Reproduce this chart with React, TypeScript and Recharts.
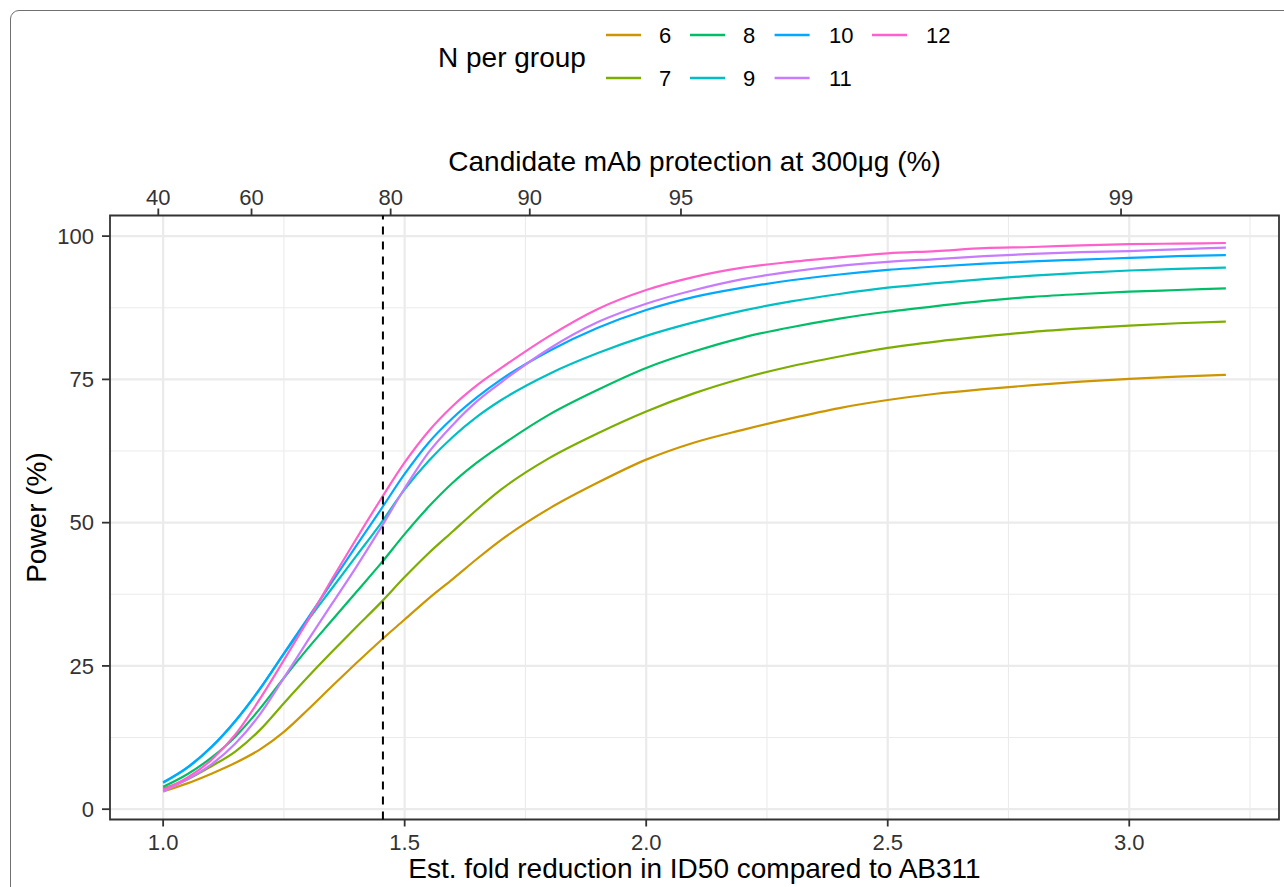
import React from 'react';
import { LineChart, Line, XAxis, YAxis, CartesianGrid, ReferenceLine, ReferenceArea } from 'recharts';

// ---------- data ----------
const foldReduction = [1.0, 1.05, 1.1, 1.15, 1.2, 1.25, 1.3, 1.35, 1.4, 1.45, 1.5, 1.55, 1.6, 1.65, 1.7, 1.8, 1.9, 2.0, 2.1, 2.2, 2.3, 2.4, 2.5, 2.6, 2.7, 2.8, 2.9, 3.0, 3.1, 3.2];

const power6 = [3.1, 4.5, 6.2, 8.1, 10.4, 13.5, 17.4, 21.5, 25.5, 29.4, 33.1, 36.8, 40.2, 43.7, 47.0, 52.5, 57.0, 61.0, 64.0, 66.2, 68.2, 70.0, 71.4, 72.5, 73.3, 74.0, 74.6, 75.1, 75.5, 75.8];
const power7 = [3.6, 5.2, 7.5, 10.1, 13.8, 18.5, 23.1, 27.5, 31.8, 36.0, 40.5, 44.7, 48.5, 52.3, 55.8, 61.3, 65.6, 69.4, 72.6, 75.2, 77.3, 79.0, 80.5, 81.6, 82.5, 83.3, 83.9, 84.4, 84.8, 85.1];
const power8 = [3.9, 6.1, 9.0, 12.7, 17.5, 22.9, 28.1, 33.0, 37.9, 42.8, 48.0, 52.8, 57.0, 60.5, 63.5, 68.9, 73.2, 77.0, 79.9, 82.3, 84.1, 85.6, 86.8, 87.8, 88.7, 89.4, 89.9, 90.3, 90.6, 90.9];
const power9 = [4.6, 7.2, 10.8, 15.4, 20.9, 27.1, 33.0, 38.6, 44.2, 49.8, 55.8, 60.8, 65.0, 68.5, 71.4, 76.0, 79.6, 82.6, 85.0, 87.0, 88.6, 89.9, 91.0, 91.8, 92.5, 93.1, 93.6, 94.0, 94.3, 94.5];
const power10 = [4.7, 7.3, 10.9, 15.5, 21.0, 27.2, 33.4, 39.7, 46.0, 52.2, 58.5, 64.0, 68.3, 71.9, 75.0, 80.0, 84.0, 87.1, 89.4, 91.0, 92.3, 93.3, 94.1, 94.7, 95.2, 95.6, 95.9, 96.2, 96.5, 96.7];
const power11 = [3.1, 5.2, 7.8, 11.5, 16.5, 22.9, 29.5, 35.9, 42.3, 49.0, 56.0, 62.3, 67.1, 71.2, 74.5, 80.4, 85.0, 88.2, 90.6, 92.5, 93.8, 94.8, 95.5, 96.0, 96.5, 96.9, 97.2, 97.4, 97.7, 98.0];
const power12 = [3.4, 5.5, 8.6, 13.1, 19.2, 26.0, 33.0, 40.2, 47.2, 54.0, 60.5, 66.0, 70.4, 74.0, 77.0, 82.6, 87.3, 90.6, 92.9, 94.5, 95.5, 96.3, 97.0, 97.4, 97.9, 98.1, 98.4, 98.6, 98.7, 98.8];

const groupSizes = ['6', '7', '8', '9', '10', '11', '12'];
const groupColors = ['#CD9600', '#7CAE00', '#00BE67', '#00BFC4', '#00A9FF', '#C77CFF', '#FF61CC'];
const seriesValues = [power6, power7, power8, power9, power10, power11, power12];

const bottomTicks = [1.0, 1.5, 2.0, 2.5, 3.0];
const bottomMinorTicks = [1.25, 1.75, 2.25, 2.75, 3.25];
const powerTicks = [0, 25, 50, 75, 100];
const powerMinorTicks = [12.5, 37.5, 62.5, 87.5];
const topTickFolds = [0.99, 1.183, 1.471, 1.759, 2.072, 2.983];
const topTickLabels = ['40', '60', '80', '90', '95', '99'];
const thresholdFold = 1.455;
const xDomain: [number, number] = [0.89, 3.31];
const yDomain: [number, number] = [-1.8, 103.6];

const chartData = foldReduction.map((f, i) => {
  const row: Record<string, number> = { fold: f };
  groupSizes.forEach((g, k) => {
    row['n' + g] = seriesValues[k][i];
  });
  return row;
});

const FONT = "'Liberation Sans', Arial, Helvetica, sans-serif";
const tickStyle = { fill: '#333333', fontSize: 22, fontFamily: FONT };

// legend layout
const legendKeyX = [606, 690, 774.6, 872];
const legendLabelX = [659, 743, 829, 926];
const legendRowY = [35, 78];

export default function App() {
  return (
    <div style={{ position: 'absolute', left: 0, top: 0, width: 1284, height: 887, overflow: 'hidden', background: '#fff', fontFamily: FONT }}>
      <div style={{ position: 'absolute', left: 10, top: 10, width: 1400, height: 1000, border: '1.6px solid #707070', borderRadius: 9, boxSizing: 'border-box' }} />
      <div style={{ position: 'absolute', left: 0, top: 0 }}>
        <LineChart width={1284} height={887} data={chartData} margin={{ top: 115.5, right: 5, bottom: 0, left: 0 }} style={{ fontFamily: FONT }}>
          <CartesianGrid stroke="#EBEBEB" strokeWidth={1.1} verticalValues={bottomMinorTicks} horizontalValues={powerMinorTicks} />
          <CartesianGrid stroke="#EBEBEB" strokeWidth={2.2} verticalValues={bottomTicks} horizontalValues={powerTicks} />
          <XAxis
            dataKey="fold"
            type="number"
            domain={xDomain}
            allowDataOverflow
            ticks={bottomTicks}
            interval={0}
            tickFormatter={(v: number) => v.toFixed(1)}
            height={67.5}
            axisLine={false}
            tickLine={{ stroke: '#333333', strokeWidth: 1.8 }}
            tickSize={7}
            tickMargin={7.5}
            tick={tickStyle}
          />
          <XAxis
            xAxisId="top"
            dataKey="fold"
            orientation="top"
            type="number"
            domain={xDomain}
            allowDataOverflow
            ticks={topTickFolds}
            interval={0}
            tickFormatter={(v: number) => topTickLabels[topTickFolds.indexOf(v)]}
            height={100}
            axisLine={false}
            tickLine={{ stroke: '#333333', strokeWidth: 1.8 }}
            tickSize={7}
            tickMargin={4}
            tick={tickStyle}
          />
          <YAxis
            type="number"
            domain={yDomain}
            allowDataOverflow
            ticks={powerTicks}
            interval={0}
            width={110}
            axisLine={false}
            tickLine={{ stroke: '#333333', strokeWidth: 1.8 }}
            tickSize={8}
            tickMargin={8}
            tick={tickStyle}
          />
          {groupSizes.map((g, k) => (
            <Line
              key={g}
              type="monotone"
              dataKey={'n' + g}
              stroke={groupColors[k]}
              strokeWidth={2.2}
              dot={false}
              activeDot={false}
              isAnimationActive={false}
            />
          ))}
          <ReferenceLine x={thresholdFold} stroke="#000000" strokeWidth={2} strokeDasharray="8 7" />
          <ReferenceArea x1={xDomain[0]} x2={xDomain[1]} y1={yDomain[0]} y2={yDomain[1]} fill="none" stroke="#333333" strokeWidth={1.8} />
        </LineChart>
      </div>
      <svg width={1284} height={887} style={{ position: 'absolute', left: 0, top: 0, pointerEvents: 'none' }}>
        <text x={694.5} y={170.7} textAnchor="middle" fontSize={28} fill="#000" fontFamily={FONT}>
          Candidate mAb protection at 300μg (%)
        </text>
        <text x={694.5} y={878} textAnchor="middle" fontSize={28} fill="#000" fontFamily={FONT}>
          Est. fold reduction in ID50 compared to AB311
        </text>
        <text x={46} y={517.5} textAnchor="middle" fontSize={28} fill="#000" fontFamily={FONT} transform="rotate(-90 46 517.5)">
          Power (%)
        </text>
        <text x={438} y={67} fontSize={28} fill="#000" fontFamily={FONT}>
          N per group
        </text>
        {groupSizes.map((g, k) => {
          const col = Math.floor(k / 2);
          const row = k % 2;
          const y = legendRowY[row];
          return (
            <g key={g}>
              <line x1={legendKeyX[col]} x2={legendKeyX[col] + 35} y1={y} y2={y} stroke={groupColors[k]} strokeWidth={2.4} />
              <text x={legendLabelX[col]} y={y + 8} fontSize={22} fill="#000" fontFamily={FONT}>
                {g}
              </text>
            </g>
          );
        })}
      </svg>
    </div>
  );
}
